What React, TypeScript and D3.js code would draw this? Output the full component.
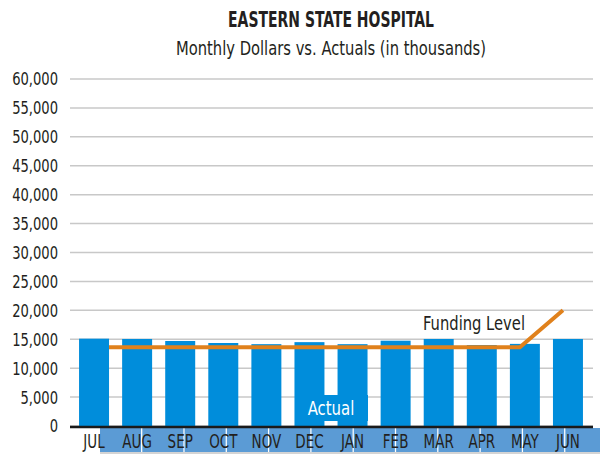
import React from "react";
import * as d3 from "d3";

const months = ["JUL", "AUG", "SEP", "OCT", "NOV", "DEC", "JAN", "FEB", "MAR", "APR", "MAY", "JUN"];
const actual = [15100, 15050, 14700, 14350, 14150, 14500, 14150, 14750, 15050, 14000, 14200, 15050];
const funding = [13600, 13600, 13600, 13600, 13600, 13600, 13600, 13600, 13600, 13600, 13600, 20000];
const yTicks = [0, 5000, 10000, 15000, 20000, 25000, 30000, 35000, 40000, 45000, 50000, 55000, 60000];
const title = "EASTERN STATE HOSPITAL";
const subtitle = "Monthly Dollars vs. Actuals (in thousands)";

const W = 600;
const H = 455;
const FONT = "'DejaVu Sans Condensed', 'DejaVu Sans', sans-serif";
const BAR = "#008DDB";
const ORANGE = "#E0811C";
const BAND = "#5B9BD5";
const INK = "#231F20";

type TProps = {
  x: number;
  y: number;
  sx: number;
  size: number;
  anchor?: "start" | "middle" | "end";
  weight?: string;
  fill?: string;
  dy?: string;
  children: React.ReactNode;
};

function T({ x, y, sx, size, anchor = "middle", weight = "normal", fill = INK, dy, children }: TProps) {
  return (
    <text
      transform={`translate(${x},${y}) scale(${sx},1)`}
      textAnchor={anchor}
      fontSize={size}
      fontWeight={weight}
      fill={fill}
      dy={dy}
    >
      {children}
    </text>
  );
}

export default function App() {
  const x = d3.scaleBand<string>().domain(months).range([72.5, 589.5]).paddingInner(0.304).paddingOuter(0.152);
  const y = d3.scaleLinear().domain([0, 60000]).range([426, 79]);
  const cells = d3.scaleBand<string>().domain(months).range([100, 100 + 42.2 * 12]).paddingInner(0.03).paddingOuter(0);
  const bw = x.bandwidth();
  const lineX = (m: string) => (x(m) as number) + bw / 2 - 5;
  const line = d3
    .line<number>()
    .x((_, i) => lineX(months[i]))
    .y((d) => y(d));
  const clipLeft = (x(months[0]) as number) + bw;
  const fmt = d3.format(",");

  return (
    <svg width={W} height={H} style={{ position: "absolute", left: 0, top: 0, background: "#fff" }} fontFamily={FONT}>
      <defs>
        <clipPath id="lineclip">
          <rect x={clipLeft} y={0} width={W} height={H} />
        </clipPath>
      </defs>
      <T x={331} y={27} sx={0.74} size={21} weight="bold">
        {title}
      </T>
      <T x={331} y={55} sx={0.82} size={20}>
        {subtitle}
      </T>
      {/* bottom band */}
      {months.map((m) => (
        <rect key={"c" + m} x={cells(m) as number} y={428} width={cells.bandwidth()} height={24} fill={BAND} />
      ))}
      <line x1={100} x2={W} y1={453} y2={453} stroke="#d4d4d4" strokeWidth={2} />
      {/* gridlines */}
      {yTicks.map((t) => (
        <line key={"g" + t} x1={70} x2={593} y1={y(t)} y2={y(t)} stroke="#c8c8c8" strokeWidth={1.5} />
      ))}
      {yTicks.map((t) => (
        <T key={"t" + t} x={58} y={y(t)} dy="0.36em" anchor="end" sx={0.81} size={18}>
          {fmt(t)}
        </T>
      ))}
      {months.map((m, i) => (
        <rect key={"b" + m} x={x(m) as number} y={y(actual[i])} width={bw} height={y(0) - y(actual[i])} fill={BAR} />
      ))}
      <rect x={295} y={395} width={73} height={26} fill={BAR} />
      <T x={331} y={415} sx={0.83} size={20} fill="#fff">
        Actual
      </T>
      <line x1={70} x2={593} y1={427} y2={427} stroke="#1a1a1a" strokeWidth={2.5} />
      <path d={line(funding) || ""} fill="none" stroke={ORANGE} strokeWidth={4} clipPath="url(#lineclip)" />
      <T x={474} y={330} sx={0.82} size={20}>
        Funding Level
      </T>
      {months.map((m) => (
        <T key={"x" + m} x={(x(m) as number) + bw / 2} y={448} sx={0.75} size={20}>
          {m}
        </T>
      ))}
    </svg>
  );
}
